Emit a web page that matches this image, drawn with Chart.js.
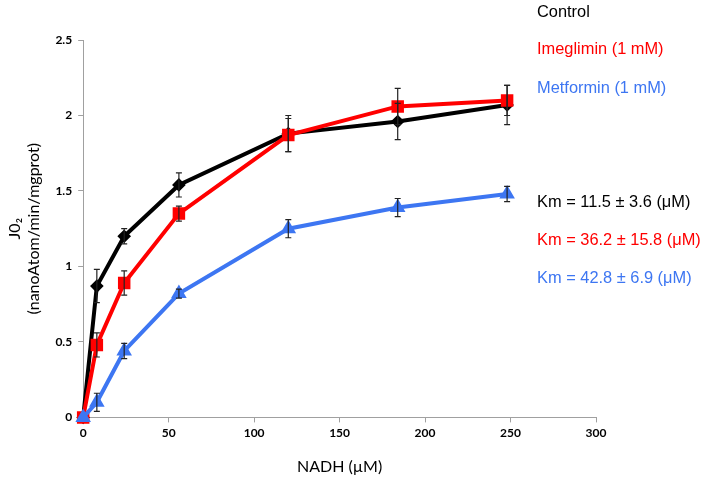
<!DOCTYPE html>
<html>
<head>
<meta charset="utf-8">
<script src="https://cdn.jsdelivr.net/npm/chart.js@4/dist/chart.umd.min.js"></script>
<style>
  html, body { margin: 0; padding: 0; background: #fff; }
  #wrap { width: 709px; height: 483px; position: relative; }
</style>
</head>
<body>
<div id="wrap"><canvas id="chart"></canvas></div>
<script>
// NADH concentrations (µM)
const nadh = [0, 8, 24, 56, 120, 184, 248];

// JO2 (nanoAtom/min/mgprot), mean and error
const control = [0, 0.87, 1.2, 1.54, 1.88, 1.96, 2.07];
const controlErr = [0, 0.11, 0.05, 0.08, 0.12, 0.12, 0.13];
const imeglimin = [0, 0.48, 0.89, 1.35, 1.87, 2.06, 2.1];
const imegliminErr = [0, 0.08, 0.08, 0.05, 0.11, 0.12, 0.1];
const metformin = [0, 0.1, 0.44, 0.82, 1.25, 1.39, 1.48];
const metforminErr = [0, 0.06, 0.05, 0.03, 0.06, 0.06, 0.05];

const seriesNames = ["Control", "Imeglimin (1 mM)", "Metformin (1 mM)"];
const kmLabels = ["Km = 11.5 ± 3.6 (μM)", "Km = 36.2 ± 15.8 (μM)", "Km = 42.8 ± 6.9 (μM)"];
const colors = ["#000000", "#ff0000", "#3d76f2"];

const yTicks = [0, 0.5, 1, 1.5, 2, 2.5];

function pts(ys) {
  return nadh.map((x, i) => ({ x: x, y: ys[i] }));
}

const errors = [controlErr, imegliminErr, metforminErr];

// error bars drawn through the chart scales
const errorBars = {
  id: "errorBars",
  afterDatasetsDraw(chart) {
    const ctx = chart.ctx;
    const xs = chart.scales.x;
    const ys = chart.scales.y;
    ctx.save();
    ctx.strokeStyle = "#222";
    ctx.lineWidth = 1.2;
    chart.data.datasets.forEach((ds, d) => {
      ds.data.forEach((p, i) => {
        const e = errors[d][i];
        if (!e) return;
        const px = xs.getPixelForValue(p.x);
        const top = ys.getPixelForValue(p.y + e);
        const bot = ys.getPixelForValue(p.y - e);
        ctx.beginPath();
        ctx.moveTo(px, top); ctx.lineTo(px, bot);
        ctx.moveTo(px - 3, top); ctx.lineTo(px + 3, top);
        ctx.moveTo(px - 3, bot); ctx.lineTo(px + 3, bot);
        ctx.stroke();
      });
    });
    ctx.restore();
  }
};

// legend and Km notes on the right
const notes = {
  id: "notes",
  afterDraw(chart) {
    const ctx = chart.ctx;
    ctx.save();
    ctx.font = "16.4px 'Liberation Sans', Arial, sans-serif";
    ctx.textBaseline = "middle";
    ctx.textAlign = "left";
    const nameY = [12, 49, 88];
    const kmY = [202, 240, 278];
    seriesNames.forEach((t, i) => {
      ctx.fillStyle = colors[i];
      ctx.fillText(t, 537, nameY[i]);
    });
    kmLabels.forEach((t, i) => {
      ctx.fillStyle = colors[i];
      ctx.fillText(t, 537, kmY[i]);
    });
    ctx.restore();
  }
};

const tickFont = { family: "Lato, 'Open Sans', sans-serif", size: 12, weight: "bold" };
const titleFont = { family: "Lato, 'Open Sans', sans-serif", size: 16 };

new Chart(document.getElementById("chart"), {
  type: "line",
  data: {
    datasets: [
      {
        label: seriesNames[0], data: pts(control),
        borderColor: colors[0], backgroundColor: colors[0],
        borderWidth: 4, pointStyle: "rectRot", pointRadius: 4, order: 3, clip: false
      },
      {
        label: seriesNames[1], data: pts(imeglimin),
        borderColor: colors[1], backgroundColor: colors[1],
        borderWidth: 4, pointStyle: "rect", pointRadius: 6, order: 2, clip: false
      },
      {
        label: seriesNames[2], data: pts(metformin),
        borderColor: colors[2], backgroundColor: colors[2],
        borderWidth: 4, pointStyle: "triangle", pointRadius: 5, order: 1, clip: false
      }
    ]
  },
  options: {
    responsive: true,
    maintainAspectRatio: false,
    animation: false,
    layout: { padding: { left: 1, right: 113, top: 40, bottom: 3 } },
    plugins: {
      legend: { display: false },
      tooltip: { enabled: false }
    },
    scales: {
      x: {
        type: "linear",
        min: 0, max: 300,
        ticks: { stepSize: 50, color: "#000", font: tickFont, padding: 4 },
        grid: { drawOnChartArea: false, drawTicks: true, tickLength: 5, color: "#a0a0a0" },
        border: { color: "#a0a0a0", width: 1 },
        title: { display: true, text: "NADH (µM)", color: "#000", font: titleFont, padding: { top: 12 } }
      },
      y: {
        min: 0, max: 2.5,
        afterBuildTicks(axis) { axis.ticks = yTicks.map(v => ({ value: v })); },
        ticks: { color: "#000", font: tickFont, padding: 6, callback: v => String(v) },
        grid: { drawOnChartArea: false, drawTicks: true, tickLength: 5, color: "#a0a0a0" },
        border: { color: "#a0a0a0", width: 1 },
        title: { display: true, text: ["J0₂", "(nanoAtom/min/mgprot)"], color: "#000", font: titleFont, padding: { bottom: 6 } }
      }
    }
  },
  plugins: [errorBars, notes]
});
</script>
</body>
</html>
